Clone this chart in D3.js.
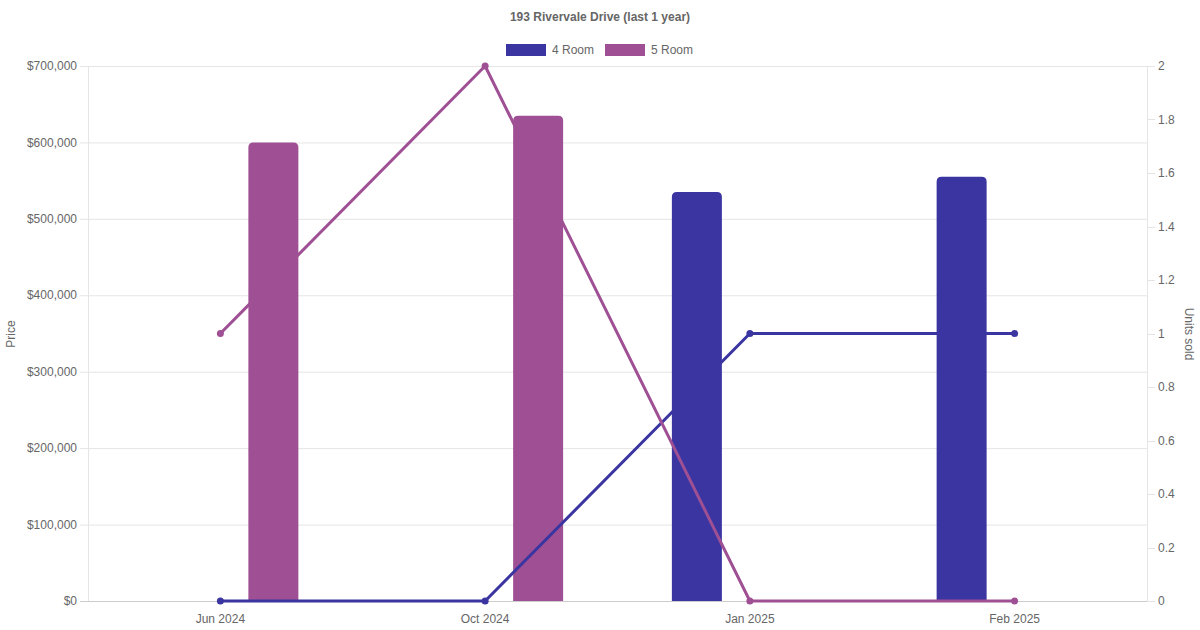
<!DOCTYPE html>
<html><head><meta charset="utf-8">
<script src="https://cdn.jsdelivr.net/npm/d3@7/dist/d3.min.js"></script>
<style>body{margin:0;background:#fff}svg{display:block;font-family:"Liberation Sans",Arial,sans-serif}</style>
</head><body><svg id="c" width="1200" height="630"></svg>
<script>
const categories = ["Jun 2024","Oct 2024","Jan 2025","Feb 2025"];
const seriesNames = ["4 Room","5 Room"];
const colors = ["#3a35a0","#9f5094"];
const price4 = [null,null,535000,555000];
const price5 = [600000,635000,null,null];
const units4 = [0,0,1,1];
const units5 = [1,2,0,0];
const priceTicks = [0,100000,200000,300000,400000,500000,600000,700000];
const unitTicks = [0,0.2,0.4,0.6,0.8,1,1.2,1.4,1.6,1.8,2];

const svg = d3.select("#c");
const L=88,R=1147,T=66,B=601;
const x = d3.scaleBand().domain(categories).range([L,R]);
const yP = d3.scaleLinear().domain([0,700000]).range([B,T]);
const yU = d3.scaleLinear().domain([0,2]).range([B,T]);
const txt="#666", grid="#e5e5e5";

// gridlines
svg.append("g").selectAll("line").data(priceTicks).join("line")
  .attr("x1",L-8).attr("x2",R).attr("y1",d=>yP(d)+0.5).attr("y2",d=>yP(d)+0.5)
  .attr("stroke",d=>d===0?"#ccc":grid).attr("stroke-width",1);
// right tick marks
svg.append("g").selectAll("line").data(unitTicks).join("line")
  .attr("x1",R).attr("x2",R+8).attr("y1",d=>Math.round(yU(d))+0.5).attr("y2",d=>Math.round(yU(d))+0.5)
  .attr("stroke",grid);
// axis lines
svg.append("line").attr("x1",L+0.5).attr("x2",L+0.5).attr("y1",T).attr("y2",B).attr("stroke",grid);
svg.append("line").attr("x1",R+0.5).attr("x2",R+0.5).attr("y1",T).attr("y2",B).attr("stroke",grid);

// left tick labels
const fmt = d=>"$"+d3.format(",")(d);
svg.append("g").selectAll("text").data(priceTicks).join("text")
  .attr("x",L-11).attr("y",d=>yP(d)).attr("dy","0.35em").attr("text-anchor","end")
  .attr("font-size",12).attr("fill",txt).text(fmt);
svg.append("g").selectAll("text").data(unitTicks).join("text")
  .attr("x",R+11).attr("y",d=>yU(d)).attr("dy","0.35em").attr("text-anchor","start")
  .attr("font-size",12).attr("fill",txt).text(d=>d3.format("~g")(d));
// x labels
svg.append("g").selectAll("text").data(categories).join("text")
  .attr("x",d=>x(d)+x.bandwidth()/2).attr("y",B+22).attr("text-anchor","middle")
  .attr("font-size",12).attr("fill",txt).text(d=>d);

// axis titles
svg.append("text").attr("transform","translate(15,334) rotate(-90)").attr("text-anchor","middle")
  .attr("font-size",12).attr("fill",txt).text("Price");
svg.append("text").attr("transform","translate(1185,334) rotate(90)").attr("text-anchor","middle")
  .attr("font-size",12).attr("fill",txt).text("Units sold");

// title
svg.append("text").attr("x",600).attr("y",21).attr("text-anchor","middle").attr("font-size",12)
  .attr("font-weight","bold").attr("fill",txt).text("193 Rivervale Drive (last 1 year)");

// legend
const leg=[{n:seriesNames[0],c:colors[0],x:506},{n:seriesNames[1],c:colors[1],x:605}];
leg.forEach(l=>{
  svg.append("rect").attr("x",l.x).attr("y",44).attr("width",40).attr("height",12).attr("fill",l.c);
  svg.append("text").attr("x",l.x+46).attr("y",50).attr("dy","0.35em").attr("font-size",12).attr("fill",txt).text(l.n);
});

const cx = d=>x(d)+x.bandwidth()/2;

// bars
const bw=50, off=53;
function roundTop(x0,y0,w,h,r){
  r=Math.min(r,h,w/2);
  return `M${x0},${y0+h}V${y0+r}Q${x0},${y0} ${x0+r},${y0}H${x0+w-r}Q${x0+w},${y0} ${x0+w},${y0+r}V${y0+h}Z`;
}
[[price4,colors[0],-off],[price5,colors[1],off]].forEach(([p,c,o])=>{
  categories.forEach((k,i)=>{
    if(p[i]==null) return;
    const xc=cx(k)+o, y0=yP(p[i]);
    svg.append("path").attr("d",roundTop(xc-bw/2,y0,bw,B-y0,5)).attr("fill",c);
  });
});

// lines (on top of bars)
[[units4,colors[0]],[units5,colors[1]]].forEach(([u,c])=>{
  const pts = categories.map((k,i)=>[cx(k),yU(u[i])]);
  svg.append("path").attr("d",d3.line()(pts)).attr("fill","none").attr("stroke",c).attr("stroke-width",3).attr("stroke-linejoin","round");
  svg.append("g").selectAll("circle").data(pts).join("circle").attr("cx",p=>p[0]).attr("cy",p=>p[1]).attr("r",3.5).attr("fill",c);
});
</script></body></html>
